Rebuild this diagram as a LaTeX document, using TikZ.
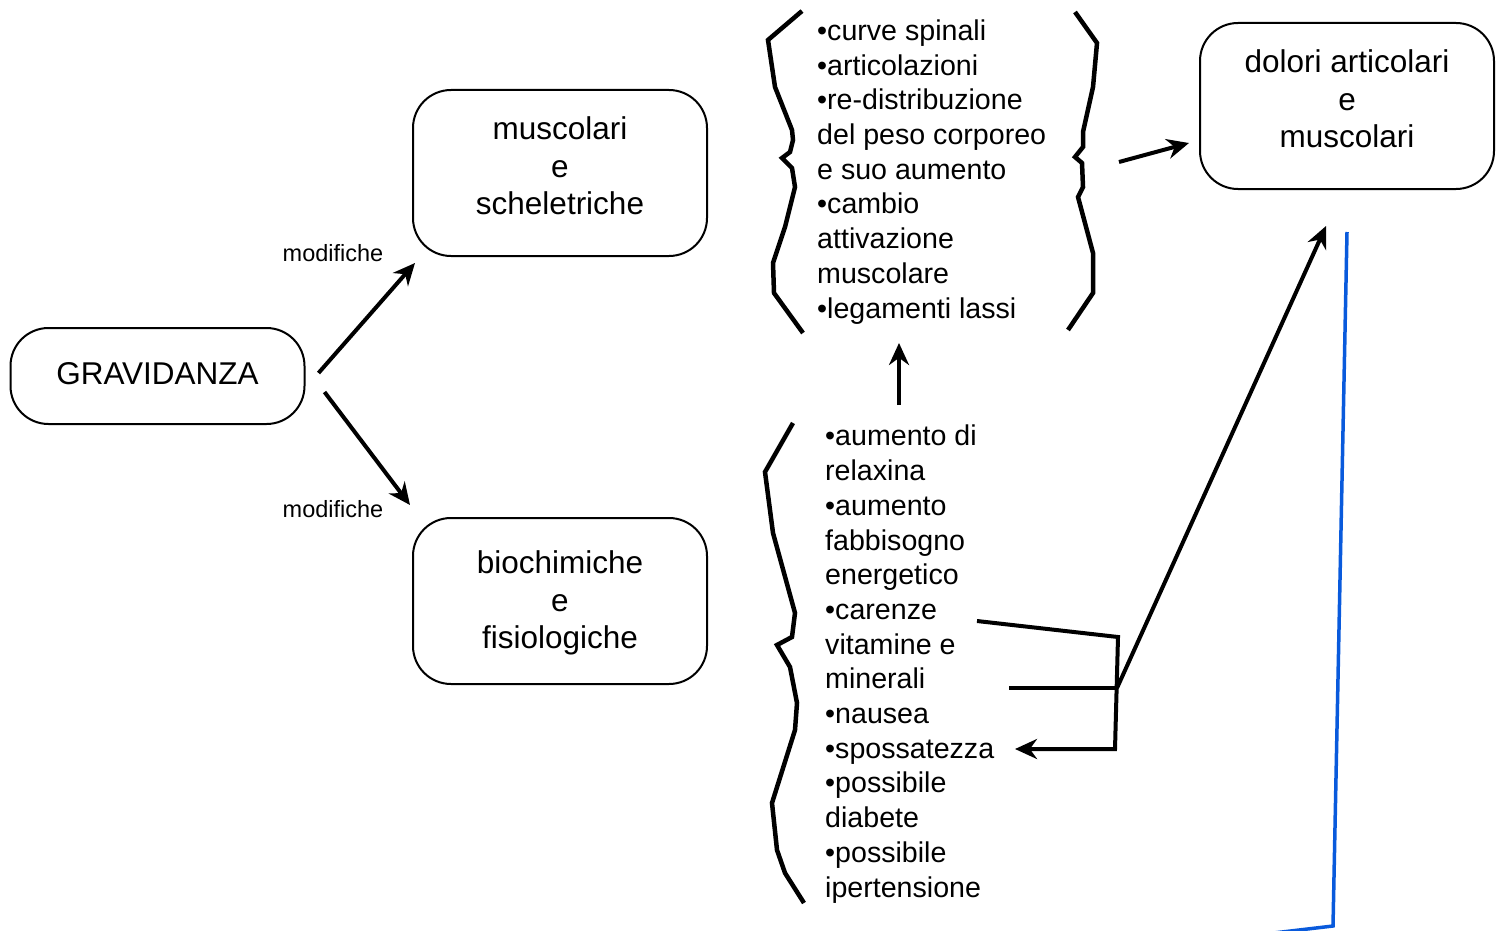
\documentclass[tikz,border=0pt]{standalone}
\usepackage{fontspec}
\setmainfont{Liberation Sans}
\usetikzlibrary{arrows.meta}

\tikzset{
  box/.style={draw, line width=2pt, rounded corners=38pt, minimum width=294pt,
    minimum height=166pt, align=center, inner sep=0pt, text depth=14pt,
    font=\fontsize{31.5}{37.5}\selectfont},
  list/.style={align=left, inner sep=0pt, font=\fontsize{28.6}{34.7}\selectfont},
  lbl/.style={inner sep=0pt, font=\fontsize{23.5}{28}\selectfont},
  arr/.style={line width=4pt, -{Stealth[length=22pt,width=20pt]}},
  link/.style={line width=4pt},
  brace/.style={line width=4.5pt},
  blueline/.style={line width=3.5pt, color=lineblue}
}
\definecolor{lineblue}{RGB}{9,90,220}

\begin{document}
\begin{tikzpicture}[x=1pt, y=-1pt]
    \useasboundingbox (0,0) rectangle (1509,931);

    % boxes
    \node[box, minimum height=96pt, text depth=6pt] (grav) at (157.5,376) {GRAVIDANZA};
    \node[box] (musc) at (560,173) {muscolari\\e\\scheletriche};
    \node[box, text depth=2.6pt] (bio) at (560,601) {biochimiche\\e\\fisiologiche};
    \node[box] (dol) at (1347,106) {dolori articolari\\e\\muscolari};

    % arrows from gravidanza
    \draw[arr] ([shift={(13,-3)}]grav.east) -- ([shift={(3,6)}]musc.south west);
    \draw[arr] ([shift={(19,16)}]grav.east) -- ([shift={(-2,-12)}]bio.north west);
    \node[lbl] (mod1) at (333,253) {modifiche};
    \node[lbl] (mod2) at (333,509) {modifiche};

    % lists
    \node[list, anchor=north west] (lmus) at (817,19.5) {%
      •curve spinali\\•articolazioni\\•re-distribuzione\\del peso corporeo\\%
      e suo aumento\\•cambio\\attivazione\\muscolare\\•legamenti lassi};
    \node[list, anchor=north west] (lbio) at (825,425) {%
      •aumento di\\relaxina\\•aumento\\fabbisogno\\energetico\\•carenze\\%
      vitamine e\\minerali\\•nausea\\•spossatezza\\•possibile\\diabete\\%
      •possibile\\ipertensione};

    % braces
    \draw[brace] (802,11) -- (768,40) -- (775,87) -- (792,130) -- (793,140)
      -- (790,152) -- (782,158) -- (792,168) -- (795,187) -- (785,227)
      -- (773,263) -- (774,293) -- (803,333);
    \draw[brace] (1075,12) -- (1097,43) -- (1093,87) -- (1083,132) -- (1083,147)
      -- (1075,157) -- (1082,163) -- (1083,187) -- (1078,197) -- (1093,253)
      -- (1093,293) -- (1068,330);
    \draw[brace] (793,423) -- (765,472) -- (773,533) -- (795,613) -- (792,637)
      -- (777,645) -- (790,667) -- (797,703) -- (795,730) -- (772,803)
      -- (777,850) -- (785,873) -- (804,903);

    % links between lists and boxes
    \coordinate (upS) at (899,405);
    \coordinate (upE) at (899,343);
    \draw[arr] (upS) -- (upE);
    \coordinate (musR) at (1119,162);
    \draw[arr] (musR) -- ([shift={(-10,37)}]dol.west);

    \coordinate (car) at (977,621);
    \coordinate (min) at (1009,688);
    \coordinate (j) at (1117,688);
    \coordinate (spo) at (1015,749);
    \draw[arr] (car) -- (1118,637) -- (1115,749) -- (spo);
    \draw[link] (min) -- (j);
    \draw[arr] (j) -- ([shift={(127,36)}]dol.south west);

    \draw[blueline] (1347,232) -- (1333,926) -- (1265,934);
\end{tikzpicture}
\end{document}
